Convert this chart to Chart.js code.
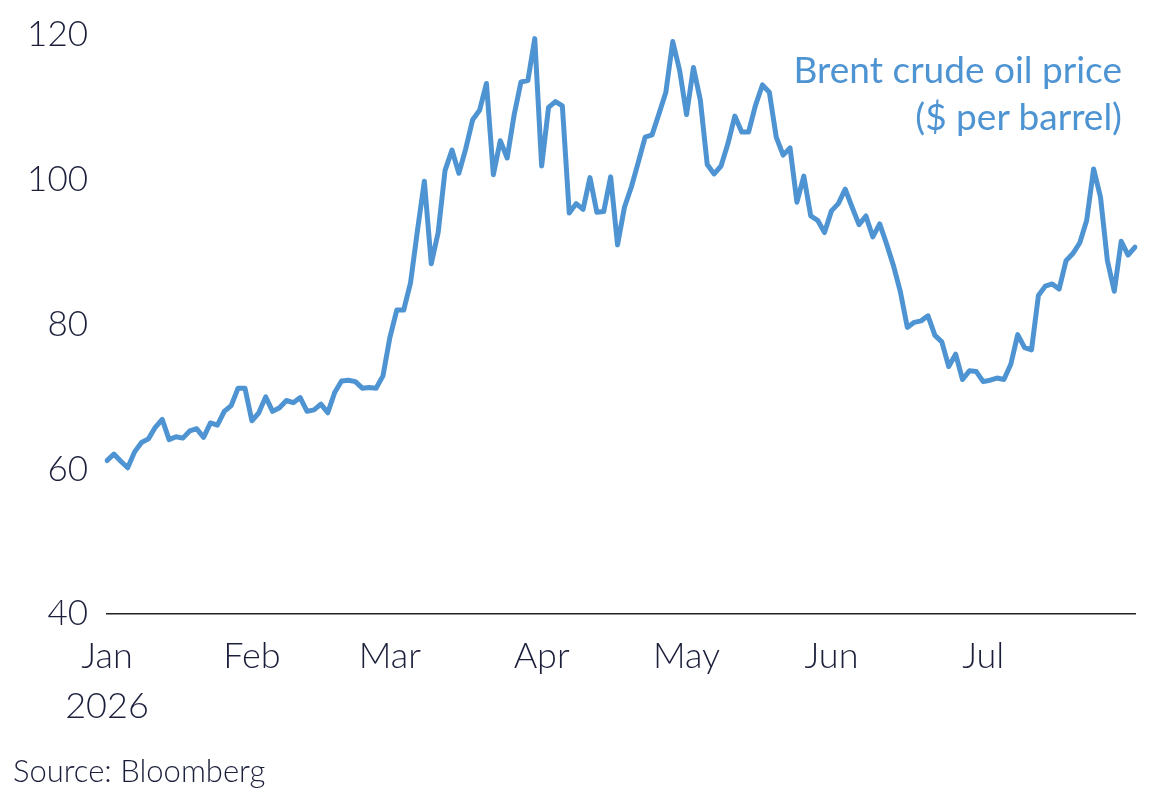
<!DOCTYPE html>
<html>
<head>
<meta charset="utf-8">
<script src="https://cdn.jsdelivr.net/npm/chart.js@4"></script>
<style>
  html, body { margin: 0; padding: 0; background: #fff; }
  #wrap { position: relative; width: 1161px; height: 798px; }
  #title {
    position: absolute; right: 39px; top: 45px;
    font-family: 'Lato', sans-serif; font-size: 37px; line-height: 47px;
    color: #4f94d2; text-align: right;
  }
  #source {
    position: absolute; left: 13px; top: 752px;
    font-family: 'Lato', sans-serif; font-weight: 300; font-size: 31px; line-height: 36px;
    color: #1b1f3b;
  }
</style>
</head>
<body>
<div id="wrap">
  <canvas id="oilChart" width="1161" height="798"></canvas>
  <div id="title">Brent crude oil price<br>($ per barrel)</div>
  <div id="source">Source: Bloomberg</div>
</div>
<script>
// trading-day closes, Jan to Jul 2026
const prices = [
  61.2, 62.1, 61.1, 60.2, 62.4, 63.7, 64.2, 65.8, 66.9, 64.1,
  64.5, 64.3, 65.3, 65.6, 64.4, 66.4, 66.1, 68.0, 68.8, 71.2,
  71.2, 66.7, 67.8, 70.0, 68.0, 68.5, 69.5, 69.2, 69.9, 68.0,
  68.2, 69.0, 67.8, 70.6, 72.2, 72.3, 72.1, 71.2, 71.3, 71.2,
  72.9, 78.2, 82.0, 82.0, 85.8, 93.0, 99.8, 88.4, 92.7, 101.3,
  104.1, 100.9, 104.3, 108.3, 109.6, 113.3, 100.7, 105.4, 103.0, 108.9,
  113.5, 113.7, 119.5, 101.9, 110.0, 110.8, 110.2, 95.4, 96.7, 95.9,
  100.3, 95.5, 95.6, 100.4, 91.0, 96.2, 99.0, 102.4, 105.9, 106.2,
  109.1, 112.1, 119.1, 115.1, 109.0, 115.5, 111.0, 102.1, 100.8, 101.9,
  105.0, 108.8, 106.6, 106.6, 110.3, 113.1, 112.1, 105.9, 103.4, 104.4,
  96.9, 100.5, 95.0, 94.4, 92.7, 95.7, 96.7, 98.7, 96.2, 93.8,
  95.0, 92.1, 93.9, 91.1, 88.1, 84.5, 79.6, 80.3, 80.5, 81.2,
  78.5, 77.6, 74.2, 75.9, 72.4, 73.6, 73.5, 72.1, 72.3, 72.6,
  72.4, 74.5, 78.6, 76.8, 76.5, 84.0, 85.3, 85.6, 84.9, 88.8,
  89.8, 91.3, 94.4, 101.5, 97.6, 88.8, 84.6, 91.5, 89.6, 90.7
];

const monthNames = ['Jan', 'Feb', 'Mar', 'Apr', 'May', 'Jun', 'Jul'];
const monthStart = [0, 21, 41, 63, 84, 105, 127];   // index of first trading day
const yTicks = [40, 60, 80, 100, 120];

// one category per trading day, named after its month
const labels = prices.map(function(p, i) {
    let m = 0;
    for (let k = 0; k < monthStart.length; k++) {
        if (i >= monthStart[k]) m = k;
    }
    return monthNames[m] + ' ' + (i - monthStart[m] + 1);
});

const inkColor = '#1b1f3b';

const ctx = document.getElementById('oilChart').getContext('2d');
new Chart(ctx, {
    type: 'line',
    data: {
        labels: labels,
        datasets: [{
            data: prices,
            borderColor: '#4f94d2',
            borderWidth: 5,
            pointRadius: 0,
            tension: 0,
            borderJoinStyle: 'round',
            borderCapStyle: 'round'
        }]
    },
    options: {
        responsive: false,
        animation: false,
        layout: { padding: { top: 35, right: 26, bottom: 0, left: 0 } },
        plugins: {
            legend: { display: false },
            tooltip: { enabled: false }
        },
        scales: {
            x: {
                grid: { display: false },
                border: { display: true, color: '#222', width: 1.5 },
                afterFit: function(scale) { scale.height = 184; },
                ticks: {
                    autoSkip: false,
                    maxRotation: 0,
                    padding: 10,
                    color: inkColor,
                    font: { family: 'Lato', size: 36, weight: 300, lineHeight: 1.38 },
                    callback: function(value, index) {
                        const k = monthStart.indexOf(index);
                        if (k < 0) return null;
                        return k === 0 ? [monthNames[0], '2026'] : monthNames[k];
                    }
                }
            },
            y: {
                min: 40,
                max: 120,
                grid: { display: false },
                border: { display: false },
                afterFit: function(scale) { scale.width = 107; },
                afterBuildTicks: function(scale) {
                    scale.ticks = yTicks.map(function(v) { return { value: v }; });
                },
                ticks: {
                    padding: 11,
                    color: inkColor,
                    font: { family: 'Lato', size: 35, weight: 300, lineHeight: 1.0 }
                }
            }
        }
    }
});
</script>
</body>
</html>
